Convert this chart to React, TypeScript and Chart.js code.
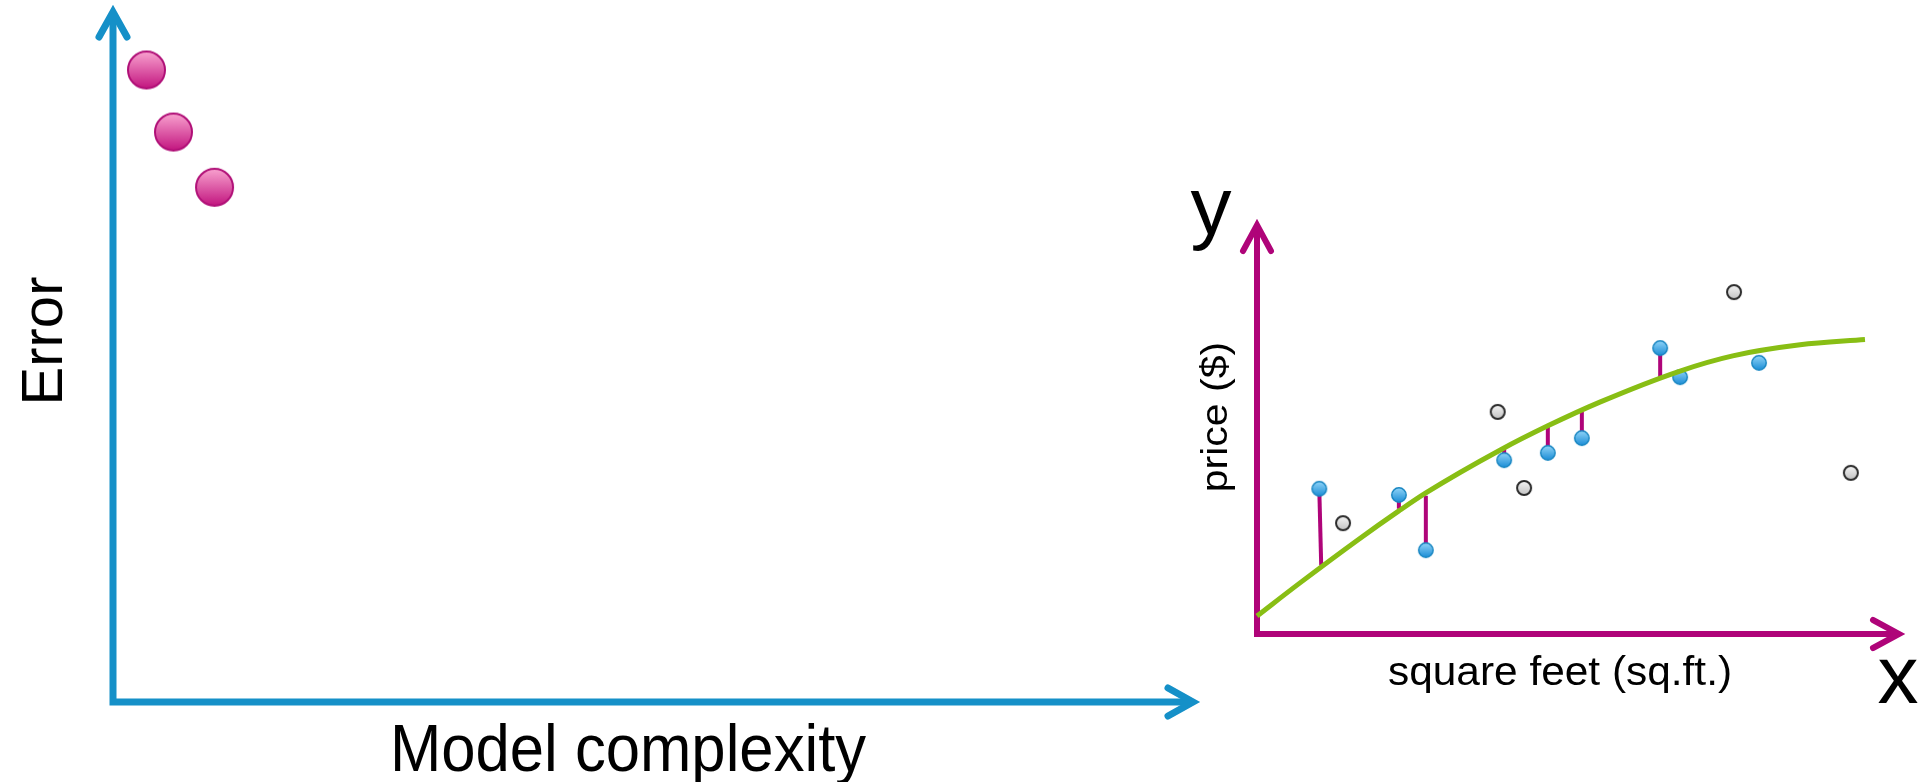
import React, { useEffect, useRef } from 'react';
import { Chart, registerables } from 'chart.js';
Chart.register(...registerables);

const W = 1927;
const H = 782;

// ---------- Left panel: error vs model complexity ----------
const COMPLEXITY = [3.1, 5.6, 9.4];
const ERROR_VALUES = [91.6, 82.6, 74.6];
const LEFT_X_LABEL = 'Model complexity';
const LEFT_Y_LABEL = 'Error';

// ---------- Right panel: price vs square feet ----------
const TRAIN_X = [9.7, 22.1, 26.3, 38.5, 45.3, 50.6, 62.8, 65.9, 78.2];
const TRAIN_Y = [35.5, 34.0, 20.5, 42.5, 44.3, 47.9, 69.9, 62.8, 66.3];
const TEST_X = [13.4, 37.5, 41.6, 74.3, 92.5];
const TEST_Y = [27.1, 54.3, 35.7, 83.6, 39.4];
const FIT_X = [0, 6.7, 15.7, 22.1, 26.3, 37.9, 45.3, 53.4, 65.9, 74.1, 84.6, 94.7];
const FIT_Y = [4.4, 12.5, 23.0, 30.1, 34.5, 45.0, 50.9, 56.7, 64.3, 68.0, 70.7, 72.0];
const RESID_X_TOP = [9.7, 22.1, 26.3, 38.5, 45.3, 50.6, 62.8];
const RESID_X_BOT = [10.0, 22.1, 26.3, 38.5, 45.3, 50.6, 62.8];
const RESID_FROM = [35.5, 34.0, 20.5, 42.5, 44.3, 47.9, 69.9];
const RESID_TO = [16.8, 30.6, 33.8, 45.4, 50.8, 54.3, 62.5];
const RIGHT_X_LABEL = 'square feet (sq.ft.)';
const RIGHT_Y_LABEL = 'price ($)';
const RIGHT_X_LETTER = 'x';
const RIGHT_Y_LETTER = 'y';

const FONT = '"Liberation Sans", Arial, sans-serif';

function makeBall(r: number, bw: number, top: string, bottom: string, stroke: string) {
  const c = document.createElement('canvas');
  const s = Math.ceil(2 * (r + bw) + 2);
  c.width = s;
  c.height = s;
  const g = c.getContext('2d')!;
  const cx = s / 2;
  const grad = g.createLinearGradient(0, cx - r, 0, cx + r);
  grad.addColorStop(0, top);
  grad.addColorStop(1, bottom);
  g.beginPath();
  g.arc(cx, cx, r, 0, Math.PI * 2);
  g.fillStyle = grad;
  g.fill();
  g.lineWidth = bw;
  g.strokeStyle = stroke;
  g.stroke();
  return c;
}

function drawText(
  ctx: CanvasRenderingContext2D,
  text: string,
  x: number,
  y: number,
  size: number,
  rot: number,
  sx: number
) {
  ctx.save();
  ctx.translate(x, y);
  ctx.rotate(rot);
  ctx.scale(sx, 1);
  ctx.font = `${size}px ${FONT}`;
  ctx.fillStyle = '#000';
  ctx.textAlign = 'center';
  ctx.textBaseline = 'alphabetic';
  ctx.fillText(text, 0, 0);
  ctx.restore();
}

function drawAxes(chart: any, color: string, lw: number, headLen: number, headHalf: number) {
  const ctx: CanvasRenderingContext2D = chart.ctx;
  const xs = chart.scales.x;
  const ys = chart.scales.y;
  const x0 = xs.getPixelForValue(0);
  const y0 = ys.getPixelForValue(0);
  const xe = xs.getPixelForValue(100);
  const ye = ys.getPixelForValue(100);
  ctx.save();
  ctx.strokeStyle = color;
  ctx.lineWidth = lw;
  ctx.lineJoin = 'miter';
  ctx.lineCap = 'butt';
  ctx.beginPath();
  ctx.moveTo(x0, ye + 2);
  ctx.lineTo(x0, y0);
  ctx.lineTo(xe - 2, y0);
  ctx.stroke();
  ctx.lineCap = 'round';
  ctx.beginPath();
  ctx.moveTo(x0 - headHalf, ye + headLen);
  ctx.lineTo(x0, ye);
  ctx.lineTo(x0 + headHalf, ye + headLen);
  ctx.stroke();
  ctx.beginPath();
  ctx.moveTo(xe - headLen, y0 - headHalf);
  ctx.lineTo(xe, y0);
  ctx.lineTo(xe - headLen, y0 + headHalf);
  ctx.stroke();
  ctx.restore();
}

const leftDecor = {
  id: 'leftDecor',
  beforeDatasetsDraw(chart: any) {
    drawAxes(chart, '#1590C8', 7, 25, 14);
  },
  afterDraw(chart: any) {
    const ctx = chart.ctx;
    drawText(ctx, LEFT_X_LABEL, 628, 771, 67, 0, 0.92);
    drawText(ctx, LEFT_Y_LABEL, 62, 341, 58, -Math.PI / 2, 1);
  },
};

const rightDecor = {
  id: 'rightDecor',
  beforeDatasetsDraw(chart: any) {
    drawAxes(chart, '#AF0479', 6, 26, 14);
  },
  afterDraw(chart: any) {
    const ctx = chart.ctx;
    drawText(ctx, RIGHT_X_LABEL, 1560, 685, 40, 0, 1.06);
    drawText(ctx, RIGHT_Y_LABEL, 1227, 417, 36, -Math.PI / 2, 1.14);
    drawText(ctx, RIGHT_Y_LETTER, 1211, 234, 82, 0, 1);
    drawText(ctx, RIGHT_X_LETTER, 1898, 703, 82, 0, 1);
  },
};

const baseOptions = (padding: any) => ({
  responsive: false,
  animation: false as const,
  events: [] as any[],
  layout: { padding, autoPadding: false },
  plugins: { legend: { display: false }, tooltip: { enabled: false } },
  scales: {
    x: { type: 'linear' as const, min: 0, max: 100, display: false },
    y: { type: 'linear' as const, min: 0, max: 100, display: false },
  },
});

export default function App() {
  const leftRef = useRef<HTMLCanvasElement>(null);
  const rightRef = useRef<HTMLCanvasElement>(null);

  useEffect(() => {
    const pink = makeBall(18.5, 2, '#F9A2CF', '#C2157F', '#B00F77');
    const blue = makeBall(7.2, 1.5, '#90D4F8', '#1B8DD6', '#1886C2');
    const gray = makeBall(7, 2, '#F5F5F5', '#C2C2C2', '#2A2A2A');

    const left = new Chart(leftRef.current!, {
      type: 'scatter',
      data: {
        datasets: [
          {
            data: COMPLEXITY.map((x, i) => ({ x, y: ERROR_VALUES[i] })),
            pointStyle: pink as any,
            pointRadius: 20,
            clip: false as any,
          },
        ],
      },
      options: baseOptions({ left: 113, top: 12, right: W - 1193, bottom: H - 702 }) as any,
      plugins: [leftDecor],
    });

    const residualSets = RESID_X_TOP.map((xt, i) => ({
      type: 'line' as const,
      data: [
        { x: xt, y: RESID_FROM[i] },
        { x: RESID_X_BOT[i], y: RESID_TO[i] },
      ],
      showLine: true,
      borderColor: '#AF0479',
      borderWidth: 4,
      pointRadius: 0,
      order: 3,
      clip: false as any,
    }));

    const right = new Chart(rightRef.current!, {
      type: 'scatter',
      data: {
        datasets: [
          ...residualSets,
          {
            data: TRAIN_X.map((x, i) => ({ x, y: TRAIN_Y[i] })),
            pointStyle: blue as any,
            pointRadius: 8,
            order: 2,
            clip: false as any,
          },
          {
            data: TEST_X.map((x, i) => ({ x, y: TEST_Y[i] })),
            pointStyle: gray as any,
            pointRadius: 8,
            order: 2,
            clip: false as any,
          },
          {
            type: 'line' as const,
            data: FIT_X.map((x, i) => ({ x, y: FIT_Y[i] })),
            showLine: true,
            borderColor: '#88BE14',
            borderWidth: 5,
            pointRadius: 0,
            cubicInterpolationMode: 'monotone' as const,
            order: 1,
            clip: false as any,
          },
        ] as any,
      },
      options: baseOptions({ left: 1257, top: 225, right: W - 1899, bottom: H - 634 }) as any,
      plugins: [rightDecor],
    });

    return () => {
      left.destroy();
      right.destroy();
    };
  }, []);

  const cstyle: React.CSSProperties = { position: 'absolute', left: 0, top: 0 };
  return (
    <div style={{ position: 'fixed', left: 0, top: 0, width: W, height: H, background: '#fff' }}>
      <canvas ref={leftRef} width={W} height={H} style={cstyle} />
      <canvas ref={rightRef} width={W} height={H} style={cstyle} />
    </div>
  );
}
